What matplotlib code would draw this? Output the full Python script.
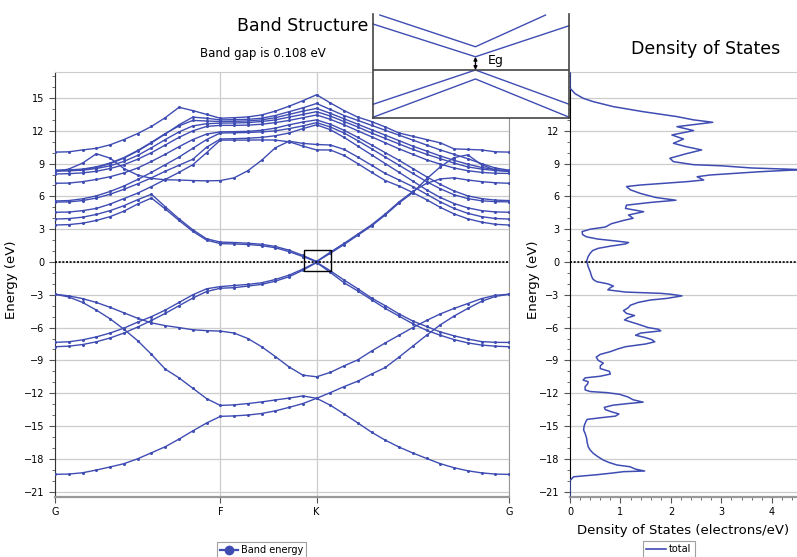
"""
Band structure + density of states (graphene-like slab), redrawn with matplotlib.
"""
import numpy as np
import matplotlib
matplotlib.use("Agg")
import matplotlib.pyplot as plt
from matplotlib.lines import Line2D
from matplotlib.patches import Rectangle
from matplotlib.ticker import MultipleLocator

plt.rcParams["font.family"] = ["DejaVu Sans"]

BLUE = "#3F4DB3"
GRID = "#CCCCCC"

# ---- k-path --------------------------------------------------------------
K_LABELS = ["G", "F", "K", "G"]
K_TICKS = [0, 165, 261, 453]          # path length (same scale as picture)
SEG_POINTS = [13, 8, 15]              # k-points per segment (ends included)

# ---- bands (eV), 13 values G->F, 7 values F->K, 14 values K->G ------------
band_v1 = [-19.42, -19.40, -19.28, -19.03, -18.75, -18.45, -18.00, -17.45, -16.90, -16.20, -15.45, -14.73, -14.12,
           -14.08, -14.00, -13.86, -13.62, -13.30, -12.95, -12.47,
           -13.10, -13.90, -14.72, -15.57, -16.30, -16.93, -17.47, -17.97, -18.45, -18.82, -19.10, -19.29, -19.40, -19.43]
band_v2 = [-2.95, -3.20, -3.70, -4.40, -5.20, -6.15, -7.20, -8.45, -9.80, -10.60, -11.55, -12.50, -13.12,
           -13.07, -12.95, -12.80, -12.62, -12.45, -12.25, -12.47,
           -11.95, -11.40, -10.90, -10.25, -9.65, -8.70, -7.70, -6.70, -5.75, -4.95, -4.25, -3.60, -3.15, -2.95]
band_v3 = [-2.95, -3.10, -3.35, -3.70, -4.15, -4.65, -5.15, -5.57, -5.82, -6.00, -6.20, -6.28, -6.32,
           -6.50, -7.00, -7.75, -8.65, -9.60, -10.35, -10.50,
           -10.10, -9.50, -8.95, -8.15, -7.40, -6.70, -6.00, -5.35, -4.75, -4.25, -3.80, -3.35, -3.05, -2.95]
band_v4 = [-7.75, -7.70, -7.55, -7.30, -6.95, -6.50, -5.95, -5.35, -4.70, -4.00, -3.30, -2.70, -2.40,
           -2.35, -2.20, -2.05, -1.75, -1.35, -0.75, -0.05,
           -0.95, -1.90, -2.65, -3.45, -4.25, -4.95, -5.65, -6.25, -6.70, -7.10, -7.40, -7.60, -7.70, -7.75]
band_v5 = [-7.35, -7.30, -7.12, -6.85, -6.50, -6.05, -5.50, -5.00, -4.40, -3.70, -3.00, -2.45, -2.25,
           -2.15, -2.05, -1.90, -1.60, -1.20, -0.65, -0.02,
           -0.80, -1.65, -2.45, -3.30, -4.00, -4.75, -5.40, -5.90, -6.40, -6.75, -7.05, -7.28, -7.35, -7.36]
band_c1 = [3.38, 3.42, 3.55, 3.80, 4.15, 4.65, 5.30, 5.85, 4.85, 3.80, 2.80, 2.00, 1.68,
           1.65, 1.60, 1.50, 1.30, 0.95, 0.50, 0.02,
           0.80, 1.60, 2.45, 3.30, 4.30, 5.40, 6.35, 7.60, 8.70, 9.55, 9.80, 8.90, 8.40, 8.28]
band_c2 = [3.93, 3.97, 4.10, 4.35, 4.70, 5.15, 5.70, 6.20, 5.05, 3.95, 2.95, 2.12, 1.82,
           1.78, 1.72, 1.62, 1.42, 1.08, 0.60, 0.05,
           0.90, 1.70, 2.55, 3.40, 4.40, 5.50, 6.45, 7.20, 7.60, 7.70, 7.50, 7.35, 7.25, 7.20]
band_c3 = [4.55, 4.57, 4.70, 4.90, 5.30, 5.80, 6.30, 6.90, 7.55, 8.20, 8.90, 10.00, 11.15,
           11.15, 11.15, 11.17, 11.15, 11.00, 10.60, 10.25,
           10.25, 9.75, 9.00, 8.20, 7.45, 6.95, 6.35, 5.70, 5.00, 4.40, 3.95, 3.65, 3.45, 3.38]
band_c4 = [8.28, 8.50, 9.05, 9.90, 9.50, 8.55, 7.95, 7.65, 7.52, 7.50, 7.45, 7.42, 7.45,
           7.70, 8.35, 9.30, 10.45, 11.05, 10.85, 10.75,
           10.70, 10.30, 9.60, 8.85, 8.10, 7.50, 6.90, 6.20, 5.50, 4.90, 4.45, 4.15, 3.98, 3.93]
band_c5 = [5.48, 5.50, 5.62, 5.85, 6.20, 6.65, 7.15, 7.70, 8.30, 8.85, 9.40, 10.50, 11.25,
           11.28, 11.32, 11.40, 11.55, 11.80, 12.20, 12.55,
           12.10, 11.40, 10.60, 9.80, 9.00, 8.20, 7.40, 6.60, 5.90, 5.35, 4.95, 4.70, 4.58, 4.55]
band_c6 = [5.58, 5.62, 5.78, 6.05, 6.45, 6.95, 7.55, 8.20, 8.90, 9.60, 10.40, 11.20, 11.80,
           11.82, 11.85, 11.90, 12.00, 12.20, 12.45, 12.75,
           12.35, 11.80, 11.10, 10.35, 9.60, 8.85, 8.10, 7.35, 6.70, 6.15, 5.80, 5.60, 5.52, 5.50]
band_c7 = [7.20, 7.22, 7.35, 7.55, 7.80, 8.15, 8.60, 9.20, 9.85, 10.55, 11.20, 11.70, 11.90,
           11.92, 11.95, 12.05, 12.25, 12.55, 12.80, 13.00,
           12.60, 12.05, 11.40, 10.70, 10.00, 9.30, 8.55, 7.80, 7.10, 6.50, 6.05, 5.80, 5.66, 5.62]
band_c8 = [8.05, 8.08, 8.15, 8.30, 8.55, 8.90, 9.40, 10.00, 10.70, 11.40, 12.00, 12.40, 12.50,
           12.50, 12.52, 12.60, 12.75, 12.95, 13.20, 13.45,
           13.05, 12.55, 12.00, 11.45, 10.90, 10.35, 9.85, 9.35, 8.95, 8.60, 8.35, 8.20, 8.12, 8.10]
band_c9 = [8.32, 8.34, 8.40, 8.55, 8.80, 9.20, 9.75, 10.45, 11.20, 11.90, 12.45, 12.65, 12.70,
           12.72, 12.75, 12.85, 13.00, 13.25, 13.50, 13.75,
           13.35, 12.85, 12.35, 11.80, 11.30, 10.80, 10.30, 9.85, 9.45, 9.05, 8.70, 8.50, 8.37, 8.32]
band_c10 = [8.40, 8.42, 8.50, 8.70, 9.05, 9.55, 10.20, 10.95, 11.75, 12.45, 12.95, 12.90, 12.85,
            12.87, 12.90, 13.00, 13.20, 13.50, 13.80, 14.05,
            13.60, 13.10, 12.60, 12.10, 11.60, 11.10, 10.60, 10.15, 9.70, 9.30, 8.95, 8.65, 8.45, 8.35]
band_c11 = [8.35, 8.37, 8.45, 8.65, 9.00, 9.50, 10.15, 10.90, 11.70, 12.55, 13.25, 13.15, 13.00,
            13.02, 13.05, 13.15, 13.40, 13.75, 14.10, 14.50,
            13.95, 13.40, 12.95, 12.50, 12.05, 11.60, 11.15, 10.70, 10.25, 9.85, 9.45, 9.00, 8.60, 8.40]
band_c12 = [10.05, 10.08, 10.25, 10.40, 10.72, 11.20, 11.75, 12.40, 13.20, 14.15, 13.85, 13.50, 13.15,
            13.20, 13.27, 13.45, 13.80, 14.25, 14.75, 15.30,
            14.55, 13.85, 13.25, 12.85, 12.35, 11.80, 11.50, 11.20, 10.90, 10.35, 10.30, 10.25, 10.08, 10.05]

BANDS = [band_v1, band_v2, band_v3, band_v4, band_v5, band_c1, band_c2, band_c3, band_c4,
         band_c5, band_c6, band_c7, band_c8, band_c9, band_c10, band_c11, band_c12]

BAND_GAP = 0.108

# ---- total DOS (electrons/eV) --------------------------------------------
dos_energy = [-21.40, -20.00, -19.85, -19.65, -19.45, -19.30, -19.18, -19.12, -18.95, -18.73, -18.57, -18.35,
              -18.12, -17.80, -17.50, -17.20, -16.89, -16.50, -16.13, -15.68, -15.37, -15.00, -14.76, -14.55,
              -14.40, -14.25, -14.10, -13.90, -13.70, -13.50, -13.30, -13.10, -12.95, -12.82, -12.60, -12.35,
              -12.10, -11.95, -11.85, -11.70, -11.40, -11.15, -10.95, -10.80, -10.60, -10.45, -10.25, -10.00,
              -9.75, -9.50, -9.25, -9.00, -8.70, -8.45, -8.20, -7.95, -7.75, -7.50, -7.30, -7.10, -6.90, -6.70,
              -6.50, -6.30, -6.15, -6.00, -5.75, -5.50, -5.30, -5.10, -4.90, -4.70, -4.45, -4.20, -3.95, -3.70,
              -3.48, -3.33, -3.10, -2.95, -2.87, -2.75, -2.55, -2.35, -2.20, -2.00, -1.80, -1.60, -1.34, -0.88,
              -0.43, -0.10, 0.10, 0.50, 0.80, 1.05, 1.25, 1.45, 1.65, 1.78, 1.90, 2.10, 2.30, 2.50, 2.78, 3.00,
              3.20, 3.50, 3.80, 4.00, 4.30, 4.60, 4.90, 5.20, 5.45, 5.65, 5.90, 6.28, 6.60, 6.90, 7.04, 7.35,
              7.50, 7.80, 7.96, 8.26, 8.45, 8.60, 8.80, 8.90, 9.18, 9.49, 9.90, 10.25, 10.55, 10.86, 11.25,
              11.62, 12.02, 12.38, 12.78, 13.00, 13.30, 13.75, 14.21, 14.67, 14.98, 15.40, 15.75, 15.90, 17.40]
dos_total = [0.00, 0.00, 0.03, 0.07, 0.55, 0.85, 1.06, 1.48, 1.30, 1.19, 0.93, 0.78,
             0.66, 0.55, 0.46, 0.40, 0.36, 0.34, 0.33, 0.30, 0.27, 0.28, 0.30, 0.32,
             0.34, 0.60, 0.90, 0.97, 0.82, 0.70, 0.68, 0.85, 1.15, 1.45, 1.25, 1.15,
             0.98, 0.73, 0.40, 0.30, 0.30, 0.35, 0.36, 0.26, 0.30, 0.60, 0.80, 0.78,
             0.60, 0.60, 0.66, 0.56, 0.52, 0.60, 0.80, 0.95, 1.10, 1.50, 1.68, 1.62, 1.48, 1.30,
             1.40, 1.80, 1.75, 1.55, 1.39, 1.22, 1.08, 1.15, 1.28, 1.12, 1.06, 1.15, 1.20, 1.35,
             1.59, 1.92, 2.22, 2.00, 1.80, 1.10, 0.75, 0.80, 0.86, 0.75, 0.53, 0.46, 0.43, 0.40,
             0.36, 0.34, 0.33, 0.36, 0.40, 0.45, 0.56, 0.80, 1.10, 1.16, 0.95, 0.55, 0.33, 0.25, 0.24, 0.40,
             0.70, 0.82, 1.06, 1.25, 1.16, 1.46, 1.10, 1.12, 1.60, 2.10, 1.70, 1.39, 1.20, 1.12, 1.39, 2.32,
             2.65, 2.52, 2.78, 3.77, 4.60, 3.60, 3.00, 2.45, 2.05, 1.98, 2.30, 2.61, 2.30, 2.05, 2.25,
             2.02, 2.45, 2.12, 2.83, 2.45, 2.12, 1.45, 0.86, 0.46, 0.26, 0.10, 0.03, 0.00, 0.00]

# inset sketch of the gap (axes-fraction coordinates)
INSET_UPPER = [([0.035, 0.522, 0.879], [0.99, 0.686, 0.99]),
               ([0.0, 0.522, 1.0], [0.904, 0.590, 0.888])]
INSET_LOWER = [([0.0, 0.522, 1.0], [0.134, 0.463, 0.134]),
               ([0.0, 0.522, 1.0], [0.010, 0.377, 0.010])]
INSET_FERMI = 0.463

YMIN, YMAX = -21.47, 17.38
W, H = 797, 557


def kpath():
    pts = []
    for i, n in enumerate(SEG_POINTS):
        seg = np.linspace(K_TICKS[i], K_TICKS[i + 1], n)
        pts.extend(seg if i == 0 else seg[1:])
    return np.array(pts)


def style_energy_axis(ax):
    ax.set_ylim(YMIN, YMAX)
    ax.yaxis.set_major_locator(MultipleLocator(3))
    ax.yaxis.set_minor_locator(MultipleLocator(1))
    ax.tick_params(axis="both", which="major", labelsize=7, length=4, width=0.8, color="#555555")
    ax.tick_params(axis="both", which="minor", length=2, width=0.6, color="#555555")
    ax.grid(axis="y", color=GRID, linewidth=0.9)
    ax.set_axisbelow(True)
    ax.set_ylabel("Energy (eV)", fontsize=9.5)
    ax.axhline(0, color="black", linestyle=(0, (1.2, 1.0)), linewidth=1.2, zorder=4)
    ax.spines["left"].set_color("#333333")
    ax.spines["bottom"].set_color("#999999")
    ax.spines["bottom"].set_linewidth(1.6)
    ax.spines["top"].set_color(GRID)
    ax.spines["right"].set_color("#999999")


fig = plt.figure(figsize=(W / 100, H / 100), dpi=100)

# ---- band structure ------------------------------------------------------
ax = fig.add_axes([55 / W, 1 - 496.7 / H, 454 / W, 424.7 / H])
k = kpath()
for band in BANDS:
    ax.plot(k, band, color=BLUE, linewidth=1.0, marker="o", markersize=2.2,
            markeredgewidth=0, zorder=3)
ax.set_xlim(K_TICKS[0], K_TICKS[-1])
ax.set_xticks(K_TICKS)
ax.set_xticklabels(K_LABELS)
ax.grid(axis="x", color=GRID, linewidth=0.9)
style_energy_axis(ax)
ax.yaxis.set_label_coords(-0.082, 0.51)
ax.add_patch(Rectangle((248.3, -0.8), 27.4, 1.9, fill=False, edgecolor="black",
                       linewidth=1.0, zorder=5))

# ---- density of states ---------------------------------------------------
ax2 = fig.add_axes([570 / W, 1 - 496.7 / H, 227 / W, 424.7 / H])
ax2.plot(dos_total, dos_energy, color=BLUE, linewidth=1.1, zorder=3)
ax2.set_xlim(0, 4.5)
ax2.xaxis.set_major_locator(MultipleLocator(1))
ax2.xaxis.set_minor_locator(MultipleLocator(0.2))
style_energy_axis(ax2)
ax2.spines["left"].set_color("black")
ax2.spines["right"].set_visible(False)
ax2.yaxis.set_label_coords(-0.13, 0.51)
ax2.set_xlabel("Density of States (electrons/eV)", fontsize=9.5, labelpad=5)

# ---- titles --------------------------------------------------------------
fig.text(368 / W, 1 - 26 / H, "Band Structure", ha="right", va="center", fontsize=12.5)
fig.text(263 / W, 1 - 53 / H, f"Band gap is {BAND_GAP:.3f} eV", ha="center", va="center", fontsize=8.5)
fig.text(706 / W, 1 - 49 / H, "Density of States", ha="center", va="center", fontsize=12.5)

# ---- inset (gap sketch) --------------------------------------------------
ins = fig.add_axes([373 / W, 1 - 118.3 / H, 196.3 / W, 104.3 / H])
ins.set_xlim(0, 1)
ins.set_ylim(0, 1)
ins.set_xticks([])
ins.set_yticks([])
for side in ["left", "right", "bottom"]:
    ins.spines[side].set_color("#444444")
    ins.spines[side].set_linewidth(1.2)
ins.spines["top"].set_visible(False)
for xs, ys in INSET_UPPER + INSET_LOWER:
    ins.plot(xs, ys, color=BLUE, linewidth=1.0, clip_on=False)
ins.axhline(INSET_FERMI, color="#444444", linewidth=1.2)
ins.annotate("", xy=(0.522, INSET_FERMI), xytext=(0.522, 0.590),
             arrowprops=dict(arrowstyle="<|-|>", color="black", lw=1.0,
                             mutation_scale=5, shrinkA=0, shrinkB=0))
ins.text(0.585, 0.55, "Eg", fontsize=9, va="center", ha="left")

# ---- legends -------------------------------------------------------------
leg_kw = dict(loc="upper left", fontsize=7, frameon=True, fancybox=False,
              edgecolor="#888888", borderpad=0.35, handletextpad=0.3, borderaxespad=0)
h1 = Line2D([], [], color=BLUE, linewidth=1.6, marker="o", markersize=6)
l1 = fig.legend([h1], ["Band energy"], bbox_to_anchor=(217 / W, 1 - 541.5 / H),
                handlelength=1.8, **leg_kw)
l1.get_frame().set_linewidth(0.8)
h2 = Line2D([], [], color=BLUE, linewidth=1.2)
l2 = fig.legend([h2], ["total"], bbox_to_anchor=(643 / W, 1 - 540.5 / H),
                handlelength=2.0, **leg_kw)
l2.get_frame().set_linewidth(0.8)

fig.savefig("out.png", dpi=100)
